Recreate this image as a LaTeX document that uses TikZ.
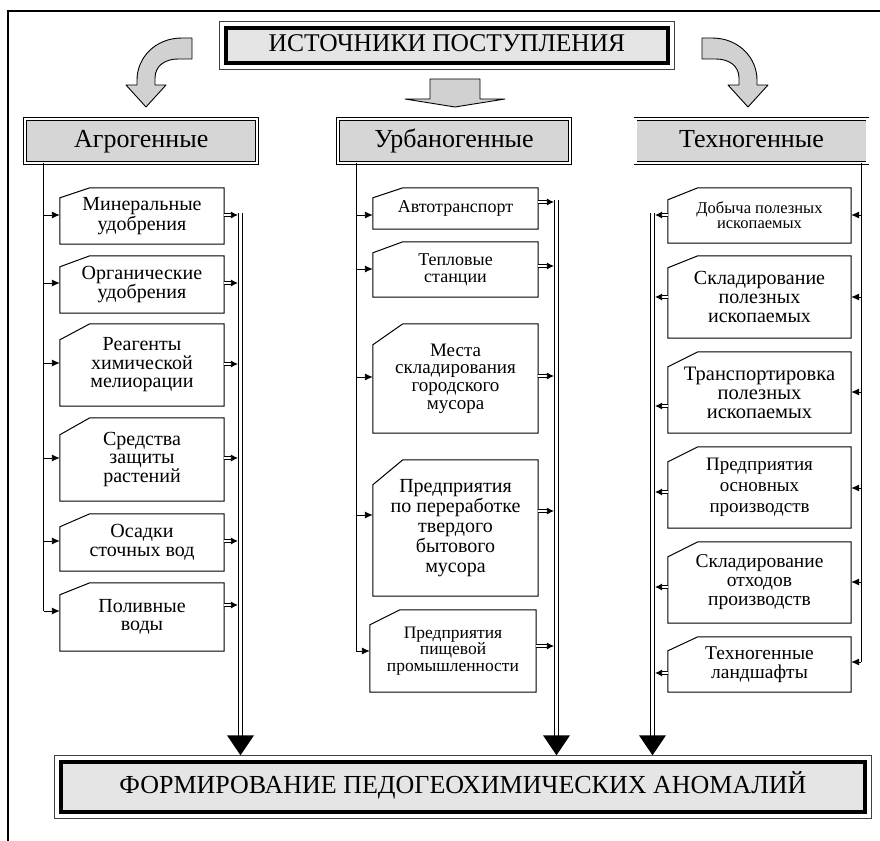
\documentclass[tikz,border=0pt]{standalone}
\usepackage{fontspec}
\setmainfont{Liberation Serif}
\usetikzlibrary{arrows.meta}
\newcommand{\fs}[2]{\fontsize{#1}{#2}\selectfont}
\newcommand{\notchbox}[2]{\draw[itemline] ([yshift=-#2 pt]#1.north west) -- ([xshift=30pt]#1.north west) -- (#1.north east) -- (#1.south east) -- (#1.south west) -- cycle;}
\newcommand{\outerframe}[1]{\draw[outerline] ([shift={(-5pt,5pt)}]#1.north west) rectangle ([shift={(5pt,-5pt)}]#1.south east);}
\begin{document}
\begin{tikzpicture}[x=1pt,y=-1pt,
  frameline/.style={line width=2.6pt},
  blockarrow/.style={draw=black, line width=0.9pt, fill=black!18, line join=round},
  hdrbox/.style={draw=black, double, double distance=2.2pt, line width=0.7pt, fill=black!16, minimum width=232pt, minimum height=44pt, inner sep=0pt, font=\fs{26}{28}, text height=17.5pt, text depth=5.5pt},
  mainbox/.style={draw=black, line width=3.4pt, fill=black!10, inner sep=0pt, text height=17.5pt, text depth=5pt},
  outerline/.style={draw=black!75, line width=0.8pt},
  item/.style={inner sep=0pt, align=center, font=\fs{20}{18.5}},
  itemline/.style={draw=black, line width=1pt},
  feed/.style={line width=0.9pt},
  feedarrow/.style={line width=0.9pt, -{Latex[length=8pt,width=7pt]}},
  outarrow/.style={double, double distance=1.6pt, line width=0.8pt, -{Latex[length=7pt,width=7pt]}, shorten >=2.6pt},
  dblv/.style={double, double distance=3.2pt, line width=1pt},
  bighead/.style={fill=black}
]
\useasboundingbox (0,0) rectangle (880,840);
% outer frame
\draw[frameline] (8,841) -- (8,11) -- (881,11);

% title
\node[mainbox, minimum width=442pt, minimum height=35pt, font=\fs{25.5}{27}] (title) at (447,45.5) {ИСТОЧНИКИ ПОСТУПЛЕНИЯ};
\outerframe{title}

% block arrows
\draw[blockarrow] (192,38) -- (182,38) .. controls (155,38) and (137,58) .. (137,80) -- (137,85) -- (126,85) -- (146,107) -- (166,85) -- (155,85) -- (155,78) .. controls (155,66) and (165,59) .. (178,59) -- (192,59) -- cycle;
\draw[blockarrow] (702,38) -- (712,38) .. controls (739,38) and (757,58) .. (757,80) -- (757,85) -- (768,85) -- (748,107) -- (728,85) -- (739,85) -- (739,78) .. controls (739,66) and (729,59) .. (716,59) -- (702,59) -- cycle;
\draw[blockarrow] (430,79) -- (480,79) -- (480,99) -- (505,99) -- (455,107) -- (405,99) -- (430,99) -- cycle;

% headers
\node[hdrbox] (hA) at (141.25,141) {Агрогенные};
\node[hdrbox] (hU) at (454,141) {Урбаногенные};
\node[hdrbox] (hT) at (751.5,141) {Техногенные};

% bottom
\node[mainbox, minimum width=804pt, minimum height=50pt, font=\fs{26}{28}] (bot) at (463,787) {ФОРМИРОВАНИЕ ПЕДОГЕОХИМИЧЕСКИХ АНОМАЛИЙ};
\outerframe{bot}

% agro items
\node[item, minimum width=164pt, minimum height=56pt] (a1) at (142,216) {Минеральные\\удобрения};
\node[item, minimum width=164pt, minimum height=57pt] (a2) at (142,284.5) {Органические\\удобрения};
\node[item, minimum width=164pt, minimum height=82pt] (a3) at (142,365) {Реагенты\\химической\\мелиорации};
\node[item, minimum width=164pt, minimum height=83pt] (a4) at (142,459.5) {Средства\\защиты\\растений};
\node[item, minimum width=164pt, minimum height=57pt] (a5) at (142,542.5) {Осадки\\сточных вод};
\node[item, minimum width=164pt, minimum height=68pt] (a6) at (142,617) {Поливные\\воды};
\notchbox{a1}{10}\notchbox{a2}{11}\notchbox{a3}{16}\notchbox{a4}{17}\notchbox{a5}{13}\notchbox{a6}{12}

% urban items
\node[item, minimum width=165pt, minimum height=41pt, font=\fs{18}{17}] (u1) at (455.5,208.5) {Автотранспорт};
\node[item, minimum width=165pt, minimum height=55pt, font=\fs{18}{17}] (u2) at (455.5,269.5) {Тепловые\\станции};
\node[item, minimum width=165pt, minimum height=109pt, font=\fs{19}{17.7}] (u3) at (455.5,378.5) {Места\\складирования\\городского\\мусора};
\node[item, minimum width=165pt, minimum height=136pt, font=\fs{20}{20}] (u4) at (455.5,528) {Предприятия\\по переработке\\твердого\\бытового\\мусора};
\node[item, minimum width=166pt, minimum height=82pt, font=\fs{17.5}{16.7}] (u5) at (453,651) {Предприятия\\пищевой\\промышленности};
\notchbox{u1}{10}\notchbox{u2}{11}\notchbox{u3}{21}\notchbox{u4}{25}\notchbox{u5}{15}

% techno items
\node[item, minimum width=183pt, minimum height=55pt, font=\fs{16.5}{15}] (t1) at (759.5,215.5) {Добыча полезных\\ископаемых};
\node[item, minimum width=183pt, minimum height=82pt, font=\fs{20}{19}] (t2) at (759.5,297) {Складирование\\полезных\\ископаемых};
\node[item, minimum width=183pt, minimum height=81pt, font=\fs{20.5}{19}] (t3) at (759.5,392.5) {Транспортировка\\полезных\\ископаемых};
\node[item, minimum width=183pt, minimum height=81pt, font=\fs{19}{21}] (t4) at (759.5,487.5) {Предприятия\\основных\\производств};
\node[item, minimum width=183pt, minimum height=81pt, font=\fs{19.5}{19}] (t5) at (759.5,582.5) {Складирование\\отходов\\производств};
\node[item, minimum width=183pt, minimum height=55pt, font=\fs{19.5}{19}] (t6) at (759.5,664.5) {Техногенные\\ландшафты};
\notchbox{t1}{12}\notchbox{t2}{12}\notchbox{t3}{15}\notchbox{t4}{15}\notchbox{t5}{15}\notchbox{t6}{14}

% feed lines and double collectors
\coordinate (fA) at (43.5,0);
\coordinate (fU) at (356,0);
\coordinate (fT) at (861,0);
\coordinate (dA) at (240.5,0);
\coordinate (dU) at (556.5,0);
\coordinate (dT) at (652.5,0);
\coordinate (tA) at ([yshift=5pt]dA |- bot.north);
\coordinate (tU) at ([yshift=5pt]dU |- bot.north);
\coordinate (tT) at ([yshift=5pt]dT |- bot.north);

\draw[feed] (fA |- hA.south) -- ([yshift=6pt]fA |- a6.west);
\draw[feed] (fU |- hU.south) -- ([yshift=0pt]fU |- u5.west);
\draw[feed] (fT |- hT.south) -- ([yshift=2.5pt]fT |- t6.east);

\foreach \n/\i/\o in {a1/1/1, a2/1.5/1.5, a3/2/1, a4/1.5/1.5, a5/1.5/1.5, a6/6/12}{
  \draw[feedarrow] ([yshift=\i pt]fA |- \n.west) -- ([yshift=\i pt]\n.west);
  \draw[outarrow] ([yshift=\o pt]\n.east) -- ([yshift=\o pt]dA |- \n.east);
}
\foreach \n/\i/\o in {u1/-6.5/6.5, u2/0.5/3.5, u3/1.5/2.5, u4/13/17, u5/0/5}{
  \draw[feedarrow] ([yshift=\i pt]fU |- \n.west) -- ([yshift=\i pt]\n.west);
  \draw[outarrow] ([yshift=\o pt]\n.east) -- ([yshift=\o pt]dU |- \n.east);
}
\foreach \n/\i/\o in {t1/0.5/0.5, t2/0/0, t3/0.5/-13.5, t4/-0.5/-4.5, t5/0.5/-4.5, t6/2.5/-8.5}{
  \draw[feedarrow] ([yshift=\i pt]fT |- \n.east) -- ([yshift=\i pt]\n.east);
  \draw[outarrow] ([yshift=\o pt]\n.west) -- ([yshift=\o pt]dT |- \n.west);
}

\draw[dblv] ([yshift=3pt]dA |- a1.east) -- ([yshift=19pt]tA);
\draw[dblv] ([yshift=8.5pt]dU |- u1.east) -- ([yshift=19pt]tU);
\draw[dblv] ([yshift=2.5pt]dT |- t1.west) -- ([yshift=19pt]tT);
\fill[bighead] (tA) -- ++(-13.5,-20) -- ++(27,0) -- cycle;
\fill[bighead] (tU) -- ++(-13.5,-20) -- ++(27,0) -- cycle;
\fill[bighead] (tT) -- ++(-13.5,-20) -- ++(27,0) -- cycle;
\end{tikzpicture}
\end{document}
